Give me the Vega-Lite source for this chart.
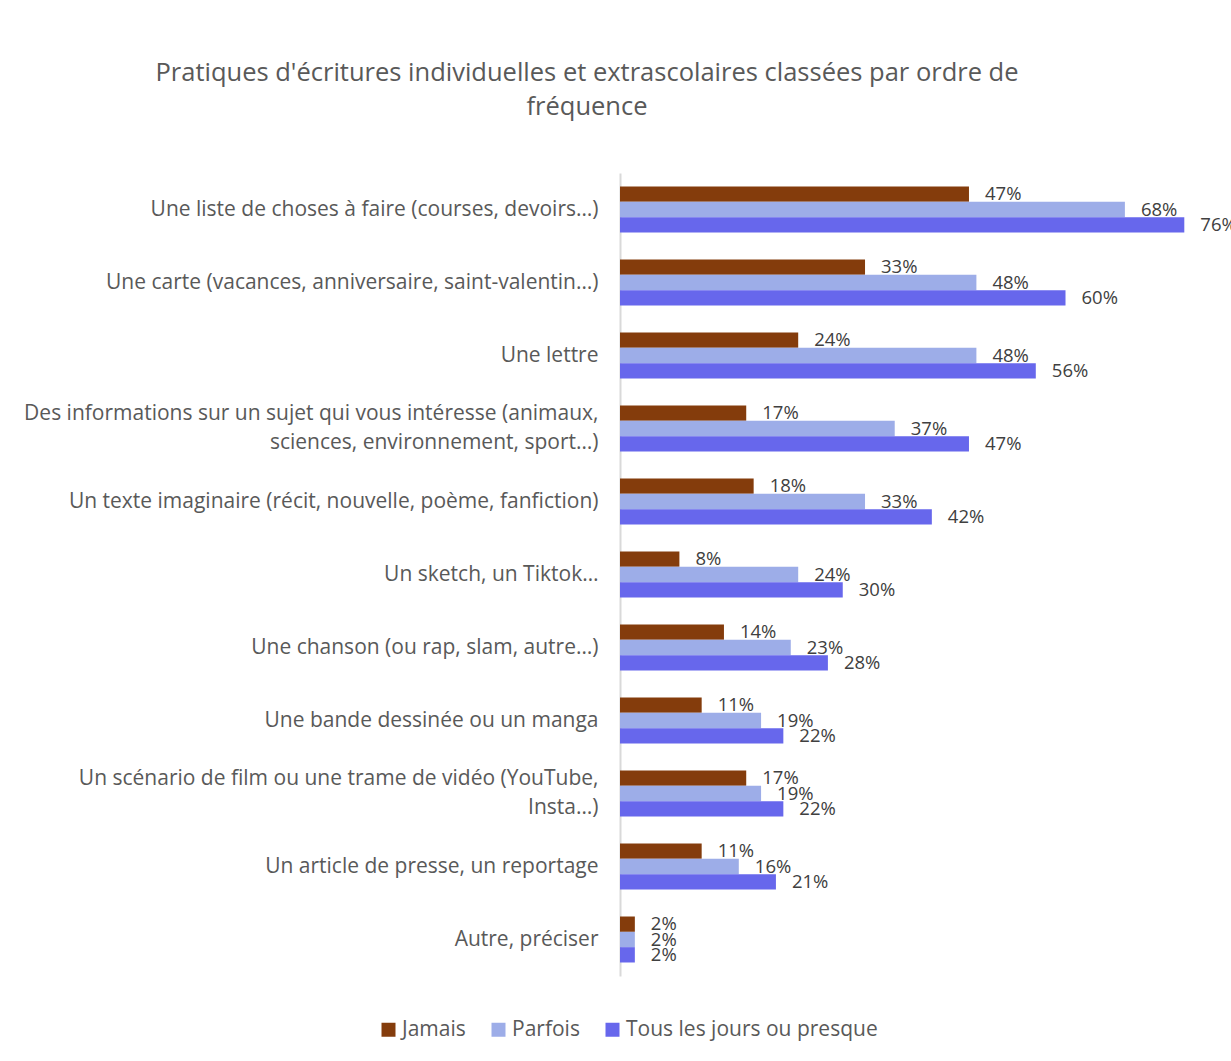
{
  "$schema": "https://vega.github.io/schema/vega-lite/v6.json",
  "autosize": "none",
  "padding": {"left": 620, "top": 173, "right": 17, "bottom": 85},
  "width": 594,
  "height": 803,
  "background": "white",
  "config": {"view": {"stroke": null}, "font": "Open Sans"},
  "title": {
    "text": ["Pratiques d'écritures individuelles et extrascolaires classées par ordre de", "fréquence"],
    "fontSize": 25.5,
    "fontWeight": "normal",
    "font": "Open Sans",
    "color": "#595959",
    "anchor": "middle",
    "dx": -330,
    "offset": 53,
    "lineHeight": 34
  },
  "data": {
    "values": [
      {"pratique": "Une liste de choses à faire (courses, devoirs…)", "serie": "Jamais", "valeur": 0.47},
      {"pratique": "Une liste de choses à faire (courses, devoirs…)", "serie": "Parfois", "valeur": 0.68},
      {"pratique": "Une liste de choses à faire (courses, devoirs…)", "serie": "Tous les jours ou presque", "valeur": 0.76},
      {"pratique": "Une carte (vacances, anniversaire, saint-valentin…)", "serie": "Jamais", "valeur": 0.33},
      {"pratique": "Une carte (vacances, anniversaire, saint-valentin…)", "serie": "Parfois", "valeur": 0.48},
      {"pratique": "Une carte (vacances, anniversaire, saint-valentin…)", "serie": "Tous les jours ou presque", "valeur": 0.60},
      {"pratique": "Une lettre", "serie": "Jamais", "valeur": 0.24},
      {"pratique": "Une lettre", "serie": "Parfois", "valeur": 0.48},
      {"pratique": "Une lettre", "serie": "Tous les jours ou presque", "valeur": 0.56},
      {"pratique": "Des informations sur un sujet qui vous intéresse (animaux, sciences, environnement, sport…)", "serie": "Jamais", "valeur": 0.17},
      {"pratique": "Des informations sur un sujet qui vous intéresse (animaux, sciences, environnement, sport…)", "serie": "Parfois", "valeur": 0.37},
      {"pratique": "Des informations sur un sujet qui vous intéresse (animaux, sciences, environnement, sport…)", "serie": "Tous les jours ou presque", "valeur": 0.47},
      {"pratique": "Un texte imaginaire (récit, nouvelle, poème, fanfiction)", "serie": "Jamais", "valeur": 0.18},
      {"pratique": "Un texte imaginaire (récit, nouvelle, poème, fanfiction)", "serie": "Parfois", "valeur": 0.33},
      {"pratique": "Un texte imaginaire (récit, nouvelle, poème, fanfiction)", "serie": "Tous les jours ou presque", "valeur": 0.42},
      {"pratique": "Un sketch, un Tiktok…", "serie": "Jamais", "valeur": 0.08},
      {"pratique": "Un sketch, un Tiktok…", "serie": "Parfois", "valeur": 0.24},
      {"pratique": "Un sketch, un Tiktok…", "serie": "Tous les jours ou presque", "valeur": 0.30},
      {"pratique": "Une chanson (ou rap, slam, autre…)", "serie": "Jamais", "valeur": 0.14},
      {"pratique": "Une chanson (ou rap, slam, autre…)", "serie": "Parfois", "valeur": 0.23},
      {"pratique": "Une chanson (ou rap, slam, autre…)", "serie": "Tous les jours ou presque", "valeur": 0.28},
      {"pratique": "Une bande dessinée ou un manga", "serie": "Jamais", "valeur": 0.11},
      {"pratique": "Une bande dessinée ou un manga", "serie": "Parfois", "valeur": 0.19},
      {"pratique": "Une bande dessinée ou un manga", "serie": "Tous les jours ou presque", "valeur": 0.22},
      {"pratique": "Un scénario de film ou une trame de vidéo (YouTube, Insta…)", "serie": "Jamais", "valeur": 0.17},
      {"pratique": "Un scénario de film ou une trame de vidéo (YouTube, Insta…)", "serie": "Parfois", "valeur": 0.19},
      {"pratique": "Un scénario de film ou une trame de vidéo (YouTube, Insta…)", "serie": "Tous les jours ou presque", "valeur": 0.22},
      {"pratique": "Un article de presse, un reportage", "serie": "Jamais", "valeur": 0.11},
      {"pratique": "Un article de presse, un reportage", "serie": "Parfois", "valeur": 0.16},
      {"pratique": "Un article de presse, un reportage", "serie": "Tous les jours ou presque", "valeur": 0.21},
      {"pratique": "Autre, préciser", "serie": "Jamais", "valeur": 0.02},
      {"pratique": "Autre, préciser", "serie": "Parfois", "valeur": 0.02},
      {"pratique": "Autre, préciser", "serie": "Tous les jours ou presque", "valeur": 0.02}
    ]
  },
  "encoding": {
    "y": {
      "field": "pratique",
      "type": "nominal",
      "sort": null,
      "title": null,
      "scale": {"paddingInner": 0.37, "paddingOuter": 0.185},
      "axis": {
        "domainColor": "#d9d9d9",
        "domainWidth": 2,
        "ticks": false,
        "labelFontSize": 21,
        "labelColor": "#595959",
        "labelFont": "Open Sans",
        "labelPadding": 22,
        "labelLimit": 700,
        "labelLineHeight": 29,
        "labelOffset": {"condition": {"test": "indexof(datum.value, '(animaux,') > 0 || indexof(datum.value, '(YouTube,') > 0", "value": -15}, "value": 0},
        "labelExpr": "indexof(datum.label, '(animaux,') > 0 ? ['Des informations sur un sujet qui vous intéresse (animaux,', 'sciences, environnement, sport…)'] : (indexof(datum.label, '(YouTube,') > 0 ? ['Un scénario de film ou une trame de vidéo (YouTube,', 'Insta…)'] : datum.label)"
      }
    },
    "yOffset": {
      "field": "serie",
      "type": "nominal",
      "sort": ["Jamais", "Parfois", "Tous les jours ou presque"],
      "scale": {"paddingInner": 0, "paddingOuter": 0}
    },
    "x": {
      "field": "valeur",
      "type": "quantitative",
      "scale": {"domain": [0, 0.8], "nice": false},
      "axis": null
    }
  },
  "layer": [
    {
      "mark": {"type": "bar"},
      "encoding": {
        "color": {
          "field": "serie",
          "type": "nominal",
          "sort": ["Jamais", "Parfois", "Tous les jours ou presque"],
          "scale": {
            "domain": ["Jamais", "Parfois", "Tous les jours ou presque"],
            "range": ["#843c0c", "#9dade8", "#6767ec"]
          },
          "legend": {
            "title": null,
            "orient": "none",
            "legendX": -242,
            "legendY": 846,
            "direction": "horizontal",
            "symbolType": "square",
            "symbolSize": 196,
            "symbolStrokeWidth": 0,
            "labelFontSize": 21,
            "labelFont": "Open Sans",
            "labelColor": "#595959",
            "labelOffset": 3,
            "columnPadding": 22,
            "labelLimit": 400
          }
        }
      }
    },
    {
      "mark": {"type": "text", "align": "left", "baseline": "middle", "dx": 16, "fontSize": 18.5, "font": "Open Sans", "color": "#404040"},
      "encoding": {
        "text": {"field": "valeur", "type": "quantitative", "format": ".0%"}
      }
    }
  ]
}
